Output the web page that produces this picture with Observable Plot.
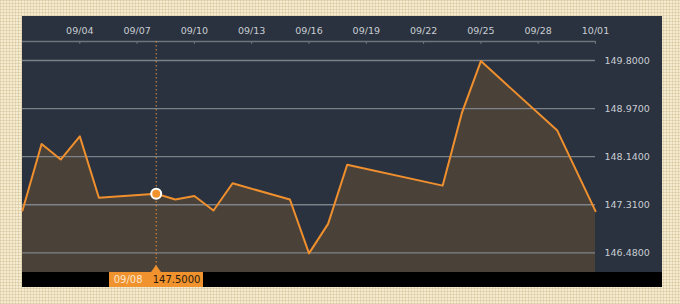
<!DOCTYPE html>
<html><head><meta charset="utf-8">
<script src="https://cdn.jsdelivr.net/npm/d3@7"></script>
<script src="https://cdn.jsdelivr.net/npm/@observablehq/plot@0.6"></script>
<style>
html,body{margin:0;padding:0;}
body{width:680px;height:304px;position:relative;overflow:hidden;background-color:#f4ebd0;
background-image:repeating-linear-gradient(0deg, rgba(190,165,110,0.28) 0 1px, transparent 1px 3px),repeating-linear-gradient(90deg, rgba(190,165,110,0.28) 0 1px, transparent 1px 3px);}
#panel{position:absolute;left:22px;top:16px;width:640px;height:271px;background:#29323e;}
#bar{position:absolute;left:0;top:256px;width:640px;height:15px;background:#000;}
#panel svg{position:absolute;left:0;top:0;background:transparent;}
#tip{position:absolute;height:15px;background:#f0922e;font:10px "DejaVu Sans",Verdana,sans-serif;line-height:15px;white-space:nowrap;}
#tip .d{color:#fde6cc;position:absolute;left:5px;}
#tip .v{color:#2a1a0c;position:absolute;left:44px;}
#tri{position:absolute;width:0;height:0;border-left:5px solid transparent;border-right:5px solid transparent;border-bottom:7px solid #f0922e;}
</style></head>
<body>
<div id="panel"><div id="bar"></div></div>
<script>
const dates = ["2023-09-01","2023-09-02","2023-09-03","2023-09-04","2023-09-05","2023-09-08","2023-09-09","2023-09-10","2023-09-11","2023-09-12","2023-09-15","2023-09-16","2023-09-17","2023-09-18","2023-09-23","2023-09-24","2023-09-25","2023-09-29","2023-10-01"];
const values = [147.21,148.36,148.09,148.49,147.43,147.50,147.40,147.46,147.21,147.68,147.40,146.47,146.98,148.00,147.64,148.89,149.79,148.59,147.20];
const xTicks = ["2023-09-04","2023-09-07","2023-09-10","2023-09-13","2023-09-16","2023-09-19","2023-09-22","2023-09-25","2023-09-28","2023-10-01"];
const xTickLabels = ["09/04","09/07","09/10","09/13","09/16","09/19","09/22","09/25","09/28","10/01"];
const yTicks = [146.48,147.31,148.14,148.97,149.80];
const xDomain = ["2023-09-01","2023-10-01"];
const yDomain = [146.14,150.128];
const hiDate = "2023-09-08";
const hiValue = 147.50;
const hiLabel = "09/08";

const data = dates.map((d,i)=>({date:new Date(d), value:values[i]}));
const tickDates = xTicks.map(d=>new Date(d));
const labelOf = new Map(xTicks.map((d,i)=>[+new Date(d), xTickLabels[i]]));
const hi = [{date:new Date(hiDate), value:hiValue}];

const W=640,H=271,mt=25,mb=15,mr=67;
const font = '"DejaVu Sans", Verdana, sans-serif';
const plot = Plot.plot({
  width:W, height:H, marginLeft:0, marginRight:mr, marginTop:mt, marginBottom:mb,
  style:{background:"transparent", fontFamily:font, fontSize:"9.5px", overflow:"visible"},
  x:{type:"utc", domain:xDomain.map(d=>new Date(d))},
  y:{domain:yDomain},
  marks:[
    Plot.areaY(data,{x:"date", y1:yDomain[0], y2:"value", fill:"#4a4239"}),
    Plot.ruleY(yTicks,{stroke:"#8a8f96", strokeWidth:1.3, strokeOpacity:0.85}),
    Plot.ruleY([yDomain[1]],{stroke:"#6f757d", strokeWidth:1.3}),
    Plot.ruleX(tickDates,{stroke:"#6f757d", insetBottom:H-mt-mb-3}),
    Plot.ruleX(hi,{x:"date", stroke:"#e8913a", strokeDasharray:"1.5,2.5", strokeWidth:1}),
    Plot.line(data,{x:"date", y:"value", stroke:"#ef8f2e", strokeWidth:2}),
    Plot.dot(hi,{x:"date", y:"value", r:5, fill:"#f0922e", stroke:"#fff", strokeWidth:2}),
    Plot.axisX({anchor:"top", ticks:tickDates, tickFormat:d=>labelOf.get(+d), tickSize:0, tickPadding:8, fill:"#c9cdd3", fontSize:"9.5px", label:null}),
    Plot.axisY({anchor:"right", ticks:yTicks, tickFormat:d3.format(".4f"), tickSize:0, tickPadding:9, fill:"#c9cdd3", fontSize:"9.5px", label:null})
  ]
});
const panel = document.getElementById("panel");
panel.appendChild(plot);
const px = plot.scale("x").apply(new Date(hiDate));
const tip = document.createElement("div");
tip.id="tip";
tip.style.left=(px-47)+"px"; tip.style.top=(H-mb)+"px"; tip.style.width="94px";
tip.innerHTML=`<span class="d">${hiLabel}</span><span class="v">${d3.format(".4f")(hiValue)}</span>`;
panel.appendChild(tip);
const tri = document.createElement("div");
tri.id="tri";
tri.style.left=(px-5)+"px"; tri.style.top=(H-mb-7)+"px";
panel.appendChild(tri);
</script>
</body></html>
